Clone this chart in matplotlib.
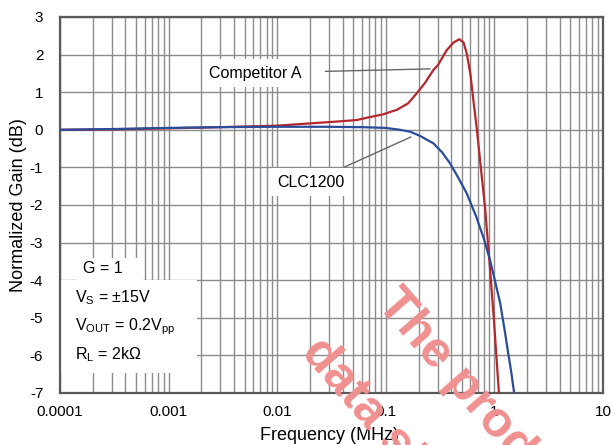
import matplotlib
matplotlib.use("Agg")
import matplotlib.pyplot as plt
from matplotlib.patches import Rectangle
from matplotlib.ticker import LogLocator, FixedLocator, FixedFormatter, NullFormatter

plt.rcParams['font.family'] = ['Liberation Sans', 'DejaVu Sans']
plt.rcParams['mathtext.fontset'] = 'custom'
plt.rcParams['mathtext.rm'] = 'Liberation Sans'

# Competitor A (red)
freq_a = [0.0001, 0.0003, 0.001, 0.003, 0.01, 0.02, 0.04, 0.054, 0.067, 0.094, 0.126,
          0.16, 0.19, 0.23, 0.274, 0.302, 0.364, 0.42, 0.475, 0.52, 0.556, 0.6, 0.64,
          0.69, 0.737, 0.819, 0.898, 0.99, 1.1]
gain_a = [0.0, 0.01, 0.04, 0.07, 0.11, 0.17, 0.23, 0.26, 0.32, 0.41, 0.53,
          0.7, 0.95, 1.25, 1.59, 1.72, 2.12, 2.32, 2.41, 2.32, 2.03, 1.5, 0.79,
          0.0, -0.8, -2.05, -3.46, -5.06, -7.0]

# CLC1200 (blue)
freq_b = [0.0001, 0.0003, 0.001, 0.003, 0.01, 0.03, 0.06, 0.1, 0.135, 0.167, 0.206,
          0.274, 0.33, 0.39, 0.46, 0.556, 0.68, 0.8, 0.91, 1.0, 1.13, 1.23, 1.34, 1.43, 1.52]
gain_b = [0.0, 0.02, 0.05, 0.07, 0.08, 0.08, 0.07, 0.05, 0.0, -0.05, -0.16,
          -0.36, -0.6, -0.89, -1.25, -1.69, -2.31, -2.9, -3.46, -3.95, -4.61, -5.25, -5.94, -6.45, -7.0]

xticks = [0.0001, 0.001, 0.01, 0.1, 1, 10]
xlabels = ['0.0001', '0.001', '0.01', '0.1', '1', '10']
yticks = [-7, -6, -5, -4, -3, -2, -1, 0, 1, 2, 3]

conds = ['G = 1', r'$\mathrm{V_S}$ = ±15V', r'$\mathrm{V_{OUT}}$ = 0.2$\mathrm{V_{pp}}$',
         r'$\mathrm{R_L}$ = 2kΩ']

fig = plt.figure(figsize=(6.13, 4.45), dpi=100)
ax = fig.add_axes([0.0979, 0.1169, 0.8858, 0.8449])

ax.plot(freq_a, gain_a, color='#b3272d', lw=1.6, zorder=3)
ax.plot(freq_b, gain_b, color='#2b4c9a', lw=1.6, zorder=3)

ax.set_xscale('log')
ax.set_xlim(0.0001, 10)
ax.set_ylim(-7, 3)
ax.xaxis.set_major_locator(FixedLocator(xticks))
ax.xaxis.set_major_formatter(FixedFormatter(xlabels))
ax.xaxis.set_minor_locator(LogLocator(base=10, subs=range(2, 10), numticks=50))
ax.xaxis.set_minor_formatter(NullFormatter())
ax.set_yticks(yticks)
ax.set_yticklabels([str(v) for v in yticks])

ax.grid(True, which='both', axis='x', color='#8c8c8c', lw=1.0)
ax.grid(True, which='major', axis='y', color='#8c8c8c', lw=1.0)
ax.set_axisbelow(True)
ax.tick_params(which='both', length=0, labelsize=11, colors='black')
ax.tick_params(axis='y', pad=12)
ax.tick_params(axis='x', pad=9)
for s in ax.spines.values():
    s.set_color('#5a5a5a')
    s.set_linewidth(1.6)

ax.set_xlabel('Frequency (MHz)', fontsize=13, va='center')
ax.xaxis.set_label_coords(0.497, -0.112)
ax.set_ylabel('Normalized Gain (dB)', fontsize=13, va='center')
ax.yaxis.set_label_coords(-0.0773, 0.5)

# annotations
box = dict(facecolor='white', edgecolor='none', pad=5)
ax.annotate('Competitor A', xy=(0.2556, 1.62), xytext=(0.0169, 1.51),
            fontsize=11.5, ha='right', va='center', bbox=box,
            arrowprops=dict(arrowstyle='-', color='#666666', lw=1.0,
                            shrinkA=12, shrinkB=0), zorder=4)
ax.annotate('CLC1200', xy=(0.1706, -0.19), xytext=(0.042, -1.39),
            fontsize=11.5, ha='right', va='center', bbox=box,
            arrowprops=dict(arrowstyle='-', color='#666666', lw=1.0,
                            shrinkA=1, shrinkB=0), zorder=4)

# conditions box
ax.add_patch(Rectangle((0.0, 0.053), 0.252, 0.248, transform=ax.transAxes,
                       facecolor='white', edgecolor='none', zorder=2))
ax.add_patch(Rectangle((0.031, 0.299), 0.122, 0.06, transform=ax.transAxes,
                       facecolor='white', edgecolor='none', zorder=2))
ax.text(0.042, 0.332, conds[0], transform=ax.transAxes, fontsize=11.5,
        ha='left', va='center', zorder=4)
for txt, yy in zip(conds[1:], [0.253, 0.176, 0.101]):
    ax.text(0.028, yy, txt, transform=ax.transAxes, fontsize=11.5,
            ha='left', va='center', zorder=4)

# watermark
fig.text(0.628, 0.335, 'The product', fontsize=36, fontweight='bold', color='#f09090',
         rotation=-49, ha='left', va='center', rotation_mode='anchor', zorder=10)
fig.text(0.505, 0.225, 'data sheet', fontsize=36, fontweight='bold', color='#f09090',
         rotation=-49, ha='left', va='center', rotation_mode='anchor', zorder=10)

fig.savefig('out.png', dpi=100)
